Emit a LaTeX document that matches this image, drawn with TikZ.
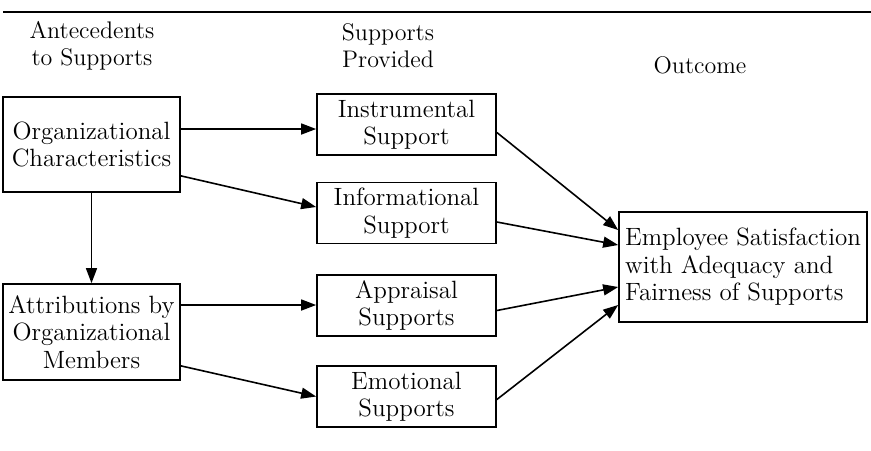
\documentclass[tikz,border=0pt]{standalone}
\usepackage{amsmath}
\usetikzlibrary{calc, arrows.meta, positioning}

\tikzset{
	box/.style={draw, line width=0.85pt, align=center, inner sep=0pt, font=\fontsize{12.5}{13.75}\selectfont},
	head/.style={align=center, inner sep=0pt, font=\fontsize{12}{13.5}\selectfont},
	arr/.style={line width=0.8pt, -{Triangle[length=7.5pt,width=5.5pt]}}
}

\begin{document}
\begin{tikzpicture}[x=0.5pt, y=-0.5pt]
	\useasboundingbox (0,0) rectangle (871,450);
	\draw[line width=0.9pt] (3,12) -- (871,12);
	% column heads
	\node[head] (h1) at (92,46) {Antecedents\\to Supports};
	\node[head] (h2) at (388,46) {Supports\\Provided};
	\node[head] (h3) at (700,65) {Outcome};
	% left column
	\node[box, minimum width=88.5pt, minimum height=47.5pt] (org) at (91.5,144.5) {Organizational\\Characteristics};
	\node[box, minimum width=88.5pt, minimum height=48pt] (attr) at (91.5,332) {Attributions by\\Organizational\\Members};
	% middle column
	\foreach \name/\y/\txt in {instr/124.5/{Instrumental\\Support}, info/213/{Informational\\Support}, appr/305.5/{Appraisal\\Supports}, emot/396.5/{Emotional\\Supports}}{
		\node[box, minimum width=89.5pt, minimum height=30.5pt] (\name) at (406.5,\y) {\txt};
	};
	% outcome
	\node[box, align=left, minimum width=124pt, minimum height=55pt] (emp) at (743,267) {Employee Satisfaction\\with Adequacy and\\Fairness of Supports};
	% arrows
	\draw[arr] (org.east |- 0,129) -- (instr.west |- 0,129);
	\draw[arr] ($(org.south east)+(0,-17)$) -- ($(info.west)+(0,-6)$);
	\draw[arr] (org.south) -- (attr.north);
	\draw[arr] (attr.east |- 0,305) -- (appr.west |- 0,305);
	\draw[arr] ($(attr.south east)+(0,-15)$) -- (emot.west);
	\foreach \src/\dy/\ty in {instr/8/-37, info/9/-22, appr/5/20, emot/3/38}{
		\draw[arr] ($(\src.east)+(0,\dy)$) -- ($(emp.west)+(0,\ty)$);
	};
\end{tikzpicture}
\end{document}
